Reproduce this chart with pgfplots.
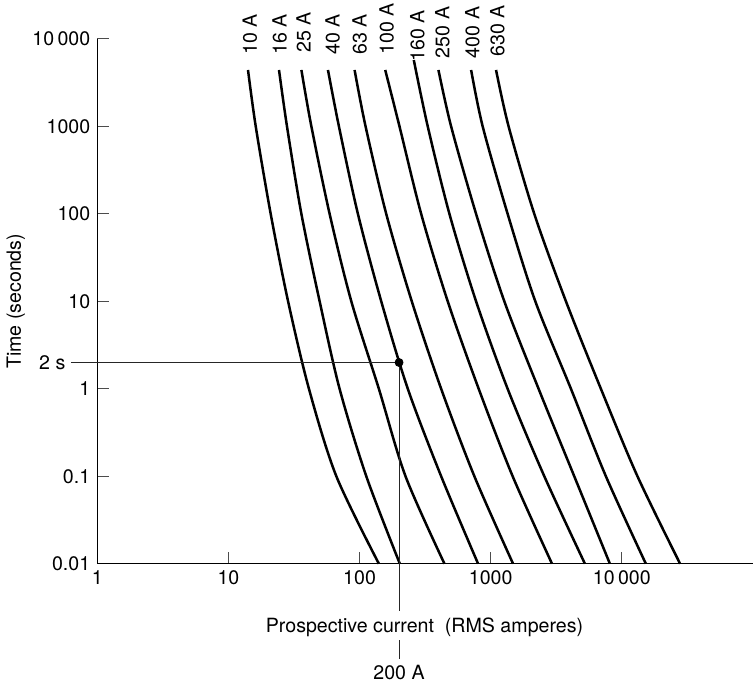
\documentclass[border=0pt]{standalone}
\usepackage{fontspec}
\setmainfont{TeX Gyre Heros}
\usepackage{pgfplots}
\pgfplotsset{compat=1.18}
\begin{document}
\begin{tikzpicture}[font=\fontsize{9.8}{11.8}\selectfont,
  fuse/.style={black, solid, mark=none, line width=1.25pt, smooth}]
\useasboundingbox (-48.65pt,-61.15pt) rectangle (327.85pt,281.85pt);
\begin{axis}[
  at={(0,0)}, anchor=south west,
  scale only axis, width=327.85pt, height=262.35pt,
  xmode=log, ymode=log,
  xmin=1, xmax=1e5, ymin=0.01, ymax=1e4,
  axis x line=bottom, axis y line=left,
  axis line style={-, line width=0.6pt, black},
  xtick={1,10,100,1000,10000},
  xticklabels={1,10,100,1000,10\,000},
  ytick={0.01,0.1,1,10,100,1000,10000},
  yticklabels={0.01,0.1,1,10,100,1000,10\,000},
  xminorticks=false, yminorticks=false,
  tick align=inside, major tick length=6pt,
  tick style={black!70, line width=0.5pt},
  /pgf/number format/assume math mode=true,
  clip=false,
]
% fuse curves (current, time)
\addplot[fuse] coordinates {(14.1,4424) (16.15,1000) (21.0,100) (28.5,10) (41.1,1) (66.5,0.1) (140.3,0.01)};
\addplot[fuse] coordinates {(24.3,4424) (27.96,1000) (36.0,100) (49.6,10) (70.4,1) (112.5,0.1) (202.7,0.01)};
\addplot[fuse] coordinates {(36.0,4424) (42.9,1000) (59.1,100) (86.5,10) (140.3,1) (224,0.1) (443.7,0.01)};
\addplot[fuse] coordinates {(57.4,4424) (69.6,1000) (97.1,100) (146.3,10) (233.2,1) (418.8,0.1) (801,0.01)};
\addplot[fuse] coordinates {(91.6,4424) (111.1,1000) (159.7,100) (250.1,10) (418.8,1) (750.6,0.1) (1480,0.01)};
\addplot[fuse] coordinates {(156.9,4424) (201.6,1000) (294.9,100) (470.1,10) (809.5,1) (1469.6,0.1) (2932,0.01)};
\addplot[fuse] coordinates {(259,5750) (331,1000) (484.4,100) (773.4,10) (1345.8,1) (2562,0.1) (5226,0.01)};
\addplot[fuse] coordinates {(399.4,4424) (499,1000) (773.4,100) (1270,10) (2317,1) (4334,0.1) (8102,0.01)};
\addplot[fuse] coordinates {(708.8,4424) (868.4,1000) (1345.8,100) (2188,10) (4090,1) (7553,0.1) (15230,0.01)};
\addplot[fuse] coordinates {(1098,4424) (1369,1000) (2149,100) (3747,10) (6920,1) (13150,0.1) (27790,0.01)};
% reading lines
\addplot[black!85, line width=0.5pt, sharp plot, mark=none] coordinates {(0.63,2) (200,2)};
\addplot[black!85, line width=0.5pt, sharp plot, mark=none] coordinates {(200,2) (200,0.0029)};
\addplot[black!85, line width=0.5pt, sharp plot, mark=none] coordinates {(200,0.00134) (200,0.000813)};
\addplot[only marks, mark=*, mark size=2pt, black] coordinates {(200,2)};
% labels
\node[anchor=east, inner sep=0pt, xshift=-2.6pt] at (axis cs:0.63,2) {2 s};
\node at (axis cs:312.6,1.89e-3) {Prospective current\ \ (RMS amperes)};
\node at (axis cs:200,5.7e-4) {200 A};
\node[rotate=90] at ([xshift=-40.8pt]rel axis cs:0,0.5) {Time (seconds)};
\node[rotate=90, anchor=west, inner sep=0pt] at (axis cs:14.54,6560) {10 A};
\node[rotate=90, anchor=west, inner sep=0pt] at (axis cs:24.6,6560) {16 A};
\node[rotate=90, anchor=west, inner sep=0pt] at (axis cs:37.5,6900) {25 A};
\node[rotate=90, anchor=west, inner sep=0pt] at (axis cs:62.3,6560) {40 A};
\node[rotate=90, anchor=west, inner sep=0pt] at (axis cs:100,6560) {63 A};
\node[rotate=90, anchor=west, inner sep=0pt] at (axis cs:160.6,6560) {100 A};
\node[rotate=90, anchor=west, inner sep=0pt] at (axis cs:276.4,5460) {160 A};
\node[rotate=90, anchor=west, inner sep=0pt] at (axis cs:428.5,6000) {250 A};
\node[rotate=90, anchor=west, inner sep=0pt] at (axis cs:725.2,6000) {400 A};
\node[rotate=90, anchor=west, inner sep=0pt] at (axis cs:1124.6,6300) {630 A};
\end{axis}
\end{tikzpicture}
\end{document}
